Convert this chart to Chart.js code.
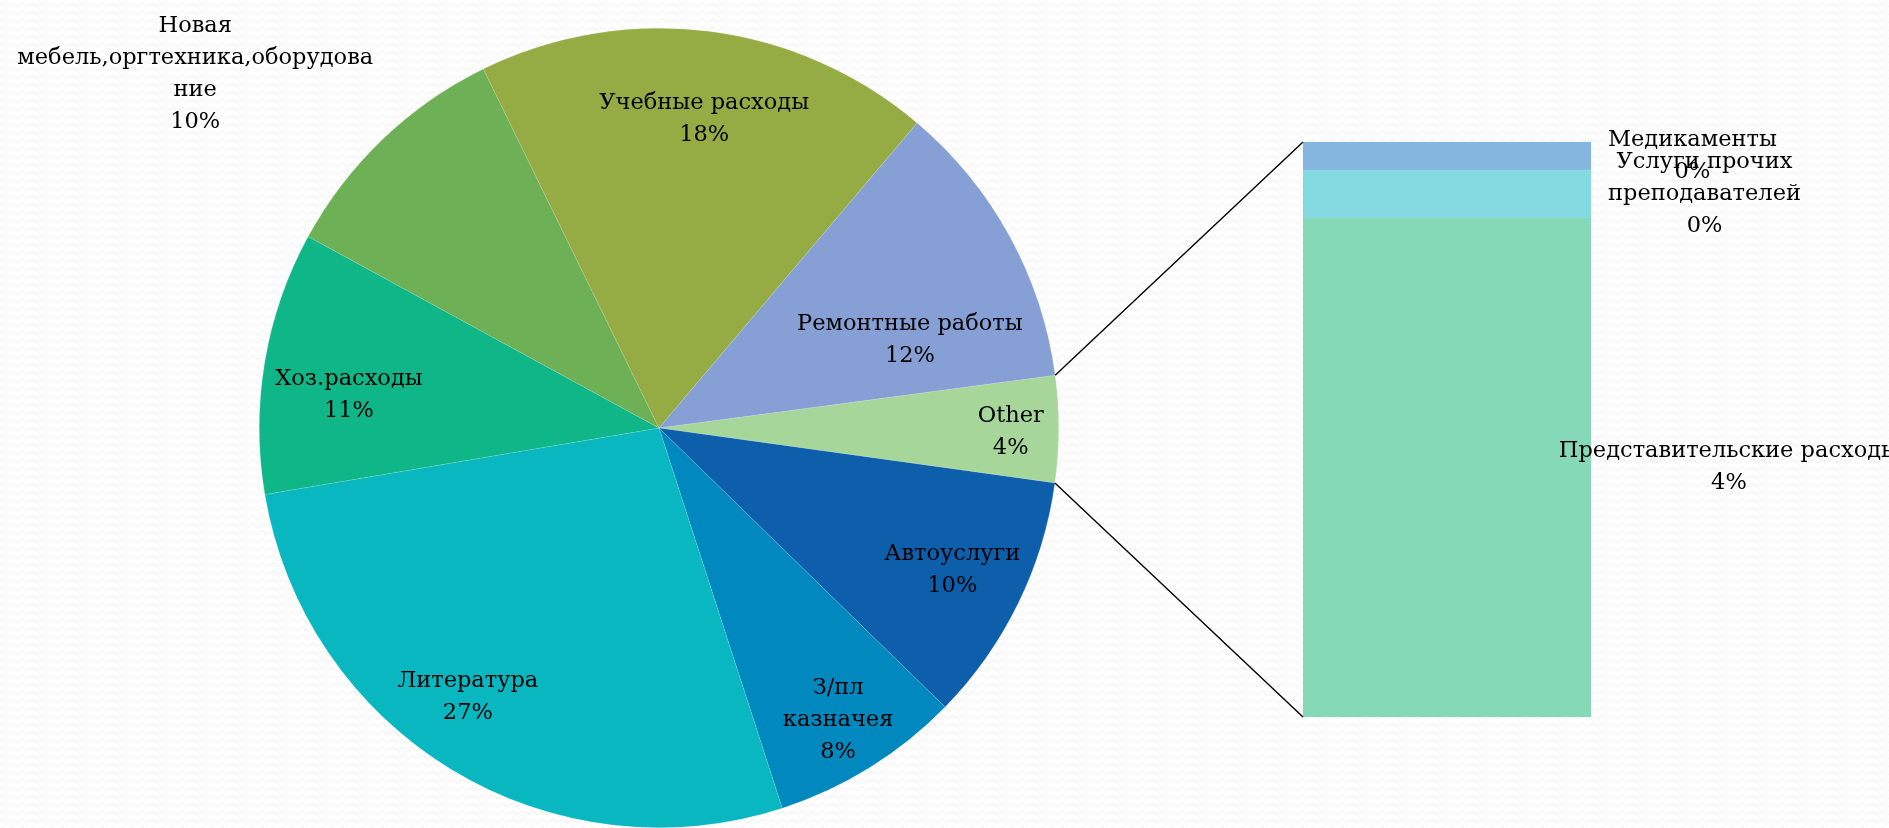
<!DOCTYPE html>
<html>
<head>
<meta charset="utf-8">
<script src="https://cdn.jsdelivr.net/npm/chart.js@4.4.1/dist/chart.umd.min.js"></script>
<style>
  html, body { margin: 0; padding: 0; }
  body {
    width: 1889px; height: 828px; overflow: hidden;
    background-color: #fff;
    background-image: url("data:image/svg+xml;utf8,<svg xmlns='http://www.w3.org/2000/svg' width='10' height='8'><path d='M0 5 Q2.5 1.5 5 5 T10 5' fill='none' stroke='%23ededed' stroke-width='1'/></svg>");
  }
  #wrap { position: relative; width: 1889px; height: 828px; }
  #wrap canvas { position: absolute; left: 0; top: 0; }
</style>
</head>
<body>
<div id="wrap">
  <canvas id="pieChart" width="1889" height="828"></canvas>
  <canvas id="barChart" width="1889" height="828"></canvas>
</div>
<script>
// pie slices (clockwise from "Other"), values in % of total spend
const pieLabels = [
  'Other',
  'Автоуслуги',
  'З/пл\nказначея',
  'Литература',
  'Хоз.расходы',
  'Новая\nмебель,оргтехника,оборудова\nние',
  'Учебные расходы',
  'Ремонтные работы'
];
const pieColors = ['#a7d69a', '#0d5fac', '#0189bf', '#08b7c0', '#0fb688', '#6db056', '#95ac44', '#86a0d5'];

// breakdown of "Other" (bottom to top in the bar)
const otherLabels = ['Представительские расходы', 'Услуги прочих\nпреподавателей', 'Медикаменты'];
const otherValues = [3.73, 0.36, 0.21];
const otherColors = ['#86d9b6', '#84dae0', '#84b6e0'];

const mainValues = [10.1, 7.7, 27.3, 10.6, 9.8, 18.4, 11.7];
const otherTotal = otherValues.reduce((a, b) => a + b, 0);
const pieValues = [otherTotal].concat(mainValues);
const grandTotal = pieValues.reduce((a, b) => a + b, 0);

// where each pie label sits: angle shift (deg) from slice middle, distance as part of radius
const labelPlace = [
  { da: 0.6, r: 0.88 },
  { da: -0.3, r: 0.815 },
  { da: 0.35, r: 0.858 },
  { da: 4.15, r: 0.826 },
  { da: -3.5, r: 0.78 },
  { da: -8.9, r: 1.46 },
  { da: 1.25, r: 0.78 },
  { da: 9.4, r: 0.665 }
];

const FONT = '22.5px "DejaVu Serif"';
const LINE_H = 32;

function pct(v) {
  return Math.round(v / grandTotal * 100) + '%';
}

function drawLines(ctx, lines, cx, cy) {
  ctx.save();
  ctx.font = FONT;
  ctx.fillStyle = '#000';
  ctx.textAlign = 'center';
  ctx.textBaseline = 'middle';
  const top = cy - (lines.length - 1) * LINE_H / 2;
  lines.forEach((ln, i) => ctx.fillText(ln, cx, top + i * LINE_H));
  ctx.restore();
}

const pieLabelPlugin = {
  id: 'pieLabels',
  afterDatasetsDraw(chart) {
    const ctx = chart.ctx;
    chart.getDatasetMeta(0).data.forEach((arc, i) => {
      const p = labelPlace[i];
      const mid = (arc.startAngle + arc.endAngle) / 2 + p.da * Math.PI / 180;
      const x = arc.x + Math.cos(mid) * arc.outerRadius * p.r;
      const y = arc.y + Math.sin(mid) * arc.outerRadius * p.r;
      const lines = pieLabels[i].split('\n').concat([pct(pieValues[i])]);
      drawLines(ctx, lines, x, y);
    });
  }
};

const pieChart = new Chart(document.getElementById('pieChart'), {
  type: 'pie',
  data: {
    labels: pieLabels,
    datasets: [{
      data: pieValues,
      backgroundColor: pieColors,
      borderColor: 'rgba(255,255,255,0.2)',
      borderWidth: 0.6
    }]
  },
  options: {
    responsive: false,
    animation: false,
    rotation: 82.4,
    layout: { padding: { left: 259, right: 830, top: 28, bottom: 0 } },
    plugins: { legend: { display: false }, tooltip: { enabled: false } }
  },
  plugins: [pieLabelPlugin]
});

const barExtras = {
  id: 'barExtras',
  afterDatasetsDraw(chart) {
    const ctx = chart.ctx;
    // connector lines from the "Other" slice to the bar
    const arc = pieChart.getDatasetMeta(0).data[0];
    const first = chart.getDatasetMeta(0).data[0];
    const last = chart.getDatasetMeta(otherValues.length - 1).data[0];
    const left = first.x - first.width / 2;
    const right = first.x + first.width / 2;
    ctx.save();
    ctx.strokeStyle = '#000';
    ctx.lineWidth = 1.4;
    ctx.beginPath();
    ctx.moveTo(arc.x + Math.cos(arc.startAngle) * arc.outerRadius, arc.y + Math.sin(arc.startAngle) * arc.outerRadius);
    ctx.lineTo(left, last.y);
    ctx.moveTo(arc.x + Math.cos(arc.endAngle) * arc.outerRadius, arc.y + Math.sin(arc.endAngle) * arc.outerRadius);
    ctx.lineTo(left, first.base);
    ctx.stroke();
    ctx.restore();

    // labels to the right of each bar segment
    ctx.save();
    ctx.font = FONT;
    otherValues.forEach((v, i) => {
      const el = chart.getDatasetMeta(i).data[0];
      const lines = otherLabels[i].split('\n').concat([pct(v)]);
      const w = Math.max.apply(null, lines.map(l => ctx.measureText(l).width));
      let cx = right + 17 + w / 2;
      if (cx + w / 2 > chart.width + 10) cx = chart.width + 10 - w / 2;
      drawLines(ctx, lines, cx, (el.y + el.base) / 2);
    });
    ctx.restore();
  }
};

new Chart(document.getElementById('barChart'), {
  type: 'bar',
  data: {
    labels: ['Other'],
    datasets: otherValues.map((v, i) => ({
      label: otherLabels[i],
      data: [v],
      backgroundColor: otherColors[i],
      borderWidth: 0,
      categoryPercentage: 1,
      barPercentage: 1
    }))
  },
  options: {
    responsive: false,
    animation: false,
    layout: { padding: { left: 1303, right: 298, top: 142, bottom: 111 } },
    scales: {
      x: { display: false, stacked: true },
      y: { display: false, stacked: true, min: 0, max: otherTotal }
    },
    plugins: { legend: { display: false }, tooltip: { enabled: false } }
  },
  plugins: [barExtras]
});
</script>
</body>
</html>
